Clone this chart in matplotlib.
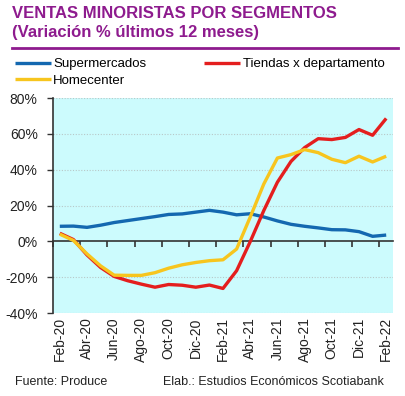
import matplotlib
matplotlib.use("Agg")
import matplotlib.pyplot as plt
from matplotlib.lines import Line2D
from matplotlib.ticker import FixedLocator, NullFormatter

plt.rcParams['font.family'] = ['Liberation Sans', 'DejaVu Sans']

months = ["Feb-20", "Mar-20", "Abr-20", "May-20", "Jun-20", "Jul-20", "Ago-20", "Sep-20",
          "Oct-20", "Nov-20", "Dic-20", "Ene-21", "Feb-21", "Mar-21", "Abr-21", "May-21",
          "Jun-21", "Jul-21", "Ago-21", "Sep-21", "Oct-21", "Nov-21", "Dic-21", "Ene-22", "Feb-22"]
supermercados = [8.4, 8.5, 7.8, 9.0, 10.5, 11.6, 12.7, 13.8, 15.0, 15.3, 16.3, 17.3,
                 16.3, 14.8, 15.4, 13.6, 11.4, 9.5, 8.4, 7.5, 6.5, 6.4, 5.4, 2.8, 3.5]
tiendas = [4.5, 1.0, -7.6, -14.6, -19.6, -22.0, -23.9, -25.6, -24.1, -24.5, -25.6, -24.4,
           -26.3, -16.4, -0.2, 17.2, 33.0, 44.6, 52.3, 57.3, 56.8, 58.0, 62.4, 59.2, 68.6]
homecenter = [4.0, 0.5, -7.0, -13.7, -18.9, -19.0, -19.0, -17.5, -15.0, -13.1, -11.8, -10.8,
              -10.3, -4.3, 13.5, 32.0, 46.5, 48.4, 51.2, 49.5, 45.8, 43.9, 47.5, 44.3, 47.5]
yticks = [-40, -20, 0, 20, 40, 60, 80]

purple = '#8E1B8E'
blue = '#1468B0'
red = '#E41E1E'
yellow = '#F7C51E'

fig = plt.figure(figsize=(4.05, 3.96), dpi=100)
ax = fig.add_axes([53/405, 1-313/396, (393-53)/405, (313-98)/396])
ax.set_facecolor('#CCFBFD')

x = list(range(len(months)))
l1, = ax.plot(x, supermercados, color=blue, lw=2.4, solid_capstyle='butt', label='Supermercados')
l2, = ax.plot(x, tiendas, color=red, lw=2.4, solid_capstyle='butt', label='Tiendas x departamento')
l3, = ax.plot(x, homecenter, color=yellow, lw=2.4, solid_capstyle='butt', label='Homecenter')

ax.set_xlim(-0.5, len(months) - 0.5)
ax.set_ylim(-40, 80)
ax.set_yticks(yticks)
ax.set_yticklabels([f"{v}%" for v in yticks], fontsize=10, color='#222222')
for v in yticks:
    if v != 0:
        ax.axhline(v, color='#B8C8C8', lw=0.8, ls=(0, (1, 1.5)), zorder=0.5)

ax.set_xticks(x[::2])
ax.set_xticklabels(months[::2], rotation=90, fontsize=10, color='#222222')
ax.tick_params(axis='x', length=0, pad=3)
ax.tick_params(axis='y', length=4, width=1, color='#333333', pad=7)
for s in ['top', 'right', 'bottom']:
    ax.spines[s].set_visible(False)
ax.spines['left'].set_color('#333333')
ax.spines['left'].set_linewidth(1.2)

# zero axis line with category boundary tick marks
sec = ax.secondary_xaxis(40/120)
sec.spines['bottom'].set_color('#333333')
sec.spines['bottom'].set_linewidth(1.2)
sec.xaxis.set_major_locator(FixedLocator([i - 0.5 for i in range(0, len(months) + 1, 2)]))
sec.xaxis.set_major_formatter(NullFormatter())
sec.tick_params(axis='x', length=4, width=1.2, color='#333333', direction='out')

fig.text(12/405, 1-14/396, "VENTAS MINORISTAS POR SEGMENTOS", fontsize=12, fontweight='bold',
         color=purple, va='center', ha='left')
fig.text(12/405, 1-33/396, "(Variación % últimos 12 meses)", fontsize=12, fontweight='bold',
         color=purple, va='center', ha='left')
fig.add_artist(Line2D([12/405, 398/405], [1-48/396, 1-48/396], transform=fig.transFigure,
                      color=purple, lw=2))

fig.legend(handles=[l1, l3, l2], loc='upper left', bbox_to_anchor=(15/405, 1-58/396),
           ncol=2, frameon=False, fontsize=9.5, handlelength=2.7, handletextpad=0.2,
           columnspacing=4.4, borderpad=0, borderaxespad=0, labelspacing=0.35)

fig.text(15/405, 1-382/396, "Fuente: Produce", fontsize=9, color='#222222', va='center')
fig.text(163/405, 1-382/396, "Elab.: Estudios Económicos Scotiabank", fontsize=9,
         color='#222222', va='center')

fig.savefig('out.png', dpi=100, facecolor='white')
